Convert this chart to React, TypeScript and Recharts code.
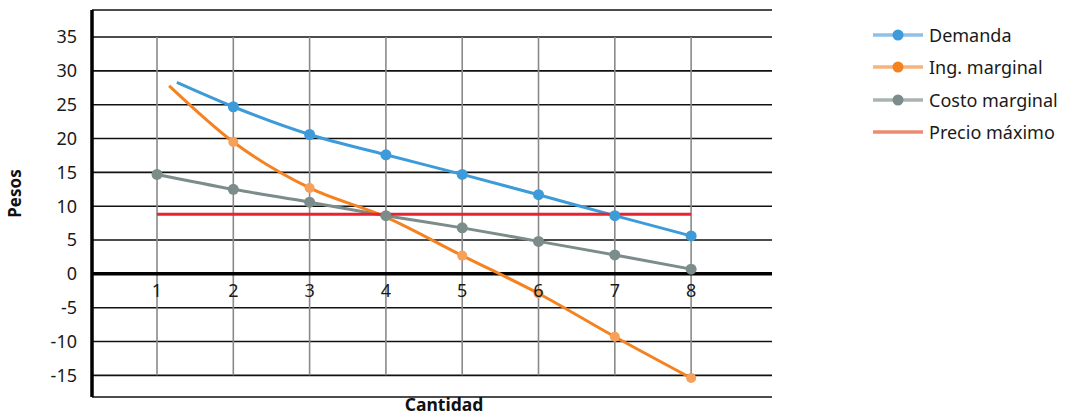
import React from "react";
import {
  CartesianGrid,
  Line,
  LineChart,
  ReferenceDot,
  ReferenceLine,
  XAxis,
  YAxis,
} from "recharts";

// ─── Data ────────────────────────────────────────────────────────────────────
const CANTIDAD = [1, 2, 3, 4, 5, 6, 7, 8];
const Y_TICKS = [-15, -10, -5, 0, 5, 10, 15, 20, 25, 30, 35];

// Demanda and Ing. marginal start a little right of 1 (no marker there)
const DEMANDA_X = [1.26, 2, 3, 4, 5, 6, 7, 8];
const DEMANDA_Y = [28.3, 24.7, 20.6, 17.6, 14.7, 11.7, 8.6, 5.6];

const ING_X = [1.16, 2, 3, 4, 5, 6, 7, 8];
const ING_Y = [27.8, 19.5, 12.7, 8.4, 2.7, -2.9, -9.3, -15.4];
const ING_MARKED = [false, true, true, false, true, true, true, true];

const COSTO_Y = [14.7, 12.5, 10.6, 8.6, 6.8, 4.8, 2.8, 0.7];

const PRECIO_MAX = 8.8;

const COLORS = {
  demanda: "#3e9bd9",
  ing: "#f58220",
  ingDot: "#f7a05a",
  costo: "#7b8c8a",
  precio: "#e8232f",
};

const demandaData = DEMANDA_X.map((x, i) => ({ x, y: DEMANDA_Y[i], marked: i > 0 }));
const ingData = ING_X.map((x, i) => ({ x, y: ING_Y[i], marked: ING_MARKED[i] }));
const costoData = CANTIDAD.map((x, i) => ({ x, y: COSTO_Y[i], marked: true }));
const precioData = [
  { x: CANTIDAD[0], y: PRECIO_MAX },
  { x: CANTIDAD[CANTIDAD.length - 1], y: PRECIO_MAX },
];

const makeDot = (fill: string, r: number) => (props: any) => {
  const { cx, cy, payload, index } = props;
  if (!payload?.marked) return <g key={index} />;
  return <circle key={index} cx={cx} cy={cy} r={r} fill={fill} />;
};

const LEGEND = [
  { name: "Demanda", line: "#8fc0e8", dot: "#3e9bd9" },
  { name: "Ing. marginal", line: "#f6b37c", dot: "#f58220" },
  { name: "Costo marginal", line: "#a9b4b2", dot: "#7b8c8a" },
  { name: "Precio máximo", line: "#ef8a72", dot: null as string | null },
];

function ChartLegend() {
  return (
    <div style={{ position: "absolute", left: 873, top: 19 }}>
      {LEGEND.map((item) => (
        <div key={item.name} style={{ display: "flex", alignItems: "center", height: 32.3 }}>
          <svg width={50} height={14} style={{ marginRight: 6 }}>
            <line x1={0} y1={7} x2={50} y2={7} stroke={item.line} strokeWidth={3.5} />
            {item.dot && <circle cx={25} cy={7} r={5.5} fill={item.dot} />}
          </svg>
          <span style={{ fontSize: 18, color: "#1a1a1a" }}>{item.name}</span>
        </div>
      ))}
    </div>
  );
}

export default function App() {
  return (
    <div
      style={{
        position: "absolute",
        left: 0,
        top: 0,
        width: 1070,
        height: 416,
        background: "#fff",
        fontFamily: "'Noto Sans', sans-serif",
      }}
    >
      <LineChart width={1070} height={416} margin={{ top: 10, right: 298, bottom: 0, left: 0 }}>
        <CartesianGrid vertical={false} stroke="#111" strokeWidth={1.6} />
        <XAxis
          type="number"
          dataKey="x"
          domain={[0.148, 9.06]}
          allowDataOverflow
          height={19}
          tick={false}
          tickLine={false}
          axisLine={false}
          label={{ value: "Cantidad", position: "center", dx: 12, dy: -2, fontSize: 17.5, fontWeight: 700, fill: "#111" }}
        />
        <YAxis
          type="number"
          domain={[-18.2, 39]}
          ticks={Y_TICKS}
          interval={0}
          width={92}
          tickSize={0}
          tickMargin={15}
          tick={{ fontSize: 18, fill: "#1a1a1a" }}
          axisLine={{ stroke: "#000", strokeWidth: 3.5 }}
          label={{ value: "Pesos", angle: -90, position: "center", dx: -31, dy: -10, fontSize: 17, fontWeight: 700, fill: "#111" }}
        />

        {/* vertical grid, only between -15 and 35 */}
        {CANTIDAD.map((c) => (
          <ReferenceLine
            key={`v${c}`}
            segment={[{ x: c, y: Y_TICKS[0] }, { x: c, y: Y_TICKS[Y_TICKS.length - 1] }]}
            stroke="#8a8a8a"
            strokeWidth={1.6}
          />
        ))}
        <ReferenceLine y={0} stroke="#000" strokeWidth={3.5} />

        {/* quantity labels sit just under the zero line */}
        {CANTIDAD.map((c) => (
          <ReferenceDot
            key={`l${c}`}
            x={c}
            y={0}
            r={0}
            fill="none"
            stroke="none"
            label={{ value: String(c), position: "bottom", offset: 10, fontSize: 18, fill: "#1a1a1a" }}
          />
        ))}

        <Line
          data={demandaData}
          dataKey="y"
          type="monotone"
          stroke={COLORS.demanda}
          strokeWidth={3}
          dot={makeDot(COLORS.demanda, 5.5)}
          activeDot={false}
          isAnimationActive={false}
        />
        <Line
          data={costoData}
          dataKey="y"
          type="monotone"
          stroke={COLORS.costo}
          strokeWidth={3}
          dot={makeDot(COLORS.costo, 5.5)}
          activeDot={false}
          isAnimationActive={false}
        />
        <Line
          data={ingData}
          dataKey="y"
          type="monotone"
          stroke={COLORS.ing}
          strokeWidth={3}
          dot={makeDot(COLORS.ingDot, 5)}
          activeDot={false}
          isAnimationActive={false}
        />
        <Line
          data={precioData}
          dataKey="y"
          type="linear"
          stroke={COLORS.precio}
          strokeWidth={3}
          dot={false}
          activeDot={false}
          isAnimationActive={false}
        />
      </LineChart>
      <ChartLegend />
    </div>
  );
}
